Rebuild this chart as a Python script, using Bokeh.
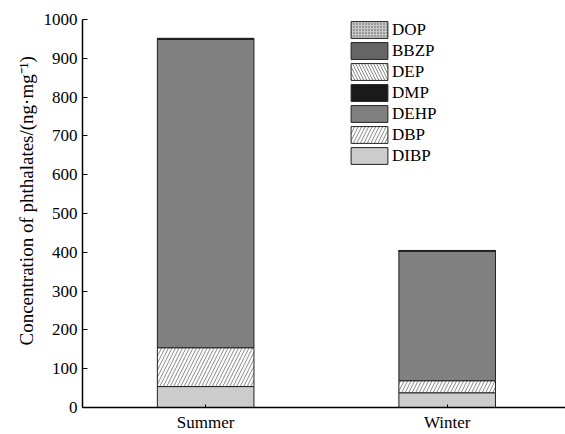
from bokeh.plotting import figure
from bokeh.models import Range1d, FixedTicker, Legend, LegendItem, Title
from bokeh.embed import file_html
from bokeh.resources import INLINE

categories = ["Summer", "Winter"]
DIBP = [54, 38]
DBP = [100, 31]
DEHP = [795, 334]
DMP = [0.8, 0.6]
DEP = [0.3, 0.2]
BBZP = [1.0, 0.8]
DOP = [0.3, 0.2]
y_ticks = [0, 100, 200, 300, 400, 500, 600, 700, 800, 900, 1000]
y_title = "Concentration of phthalates/(ng·mg⁻¹)"

series = [
    ("DIBP", DIBP, dict(fill_color="#cccccc")),
    ("DBP", DBP, dict(fill_color="white", hatch_pattern="/", hatch_color="#555555", hatch_scale=7, hatch_weight=0.7)),
    ("DEHP", DEHP, dict(fill_color="#808080")),
    ("DMP", DMP, dict(fill_color="#1a1a1a")),
    ("DEP", DEP, dict(fill_color="white", hatch_pattern="\\", hatch_color="#555555", hatch_scale=6, hatch_weight=0.7)),
    ("BBZP", BBZP, dict(fill_color="#666666")),
    ("DOP", DOP, dict(fill_color="#c8c8c8", hatch_pattern=".", hatch_color="#555555", hatch_scale=3, hatch_weight=0.6)),
]

FONT = "Liberation Serif"
xs = list(range(len(categories)))

p = figure(width=565, height=434, output_backend="svg", toolbar_location=None,
           x_range=Range1d(-0.51, 1.49), y_range=Range1d(0, 1000),
           min_border_left=82, min_border_right=0, min_border_top=19, min_border_bottom=25)
p.outline_line_color = None
p.xgrid.visible = False
p.ygrid.visible = False
p.background_fill_color = "white"

bottom = [0.0] * len(xs)
items = []
for name, vals, style in series:
    top = [b + v for b, v in zip(bottom, vals)]
    r = p.vbar(x=xs, bottom=bottom, top=top, width=0.4,
               line_color="#222222", line_width=1, **style)
    items.append(LegendItem(label=name, renderers=[r]))
    bottom = top

legend = Legend(items=list(reversed(items)), location=(264, 241),
                glyph_width=46, glyph_height=21, spacing=0, padding=0, margin=0,
                label_text_font=FONT, label_text_font_size="17px", label_text_color="black",
                label_standoff=0, label_height=21,
                border_line_color=None, background_fill_alpha=0)
p.add_layout(legend)

p.add_layout(Title(text=y_title, align="left", offset=62, standoff=8,
                   text_font=FONT, text_font_size="19px", text_font_style="normal",
                   text_color="black"), "left")

p.yaxis.ticker = FixedTicker(ticks=y_ticks)
p.yaxis.major_label_text_font = FONT
p.yaxis.major_label_text_font_size = "17px"
p.yaxis.major_label_text_color = "black"
p.yaxis.major_tick_in = 5
p.yaxis.major_tick_out = 0
p.yaxis.minor_tick_line_color = None
p.yaxis.major_label_standoff = 5
p.yaxis.axis_line_width = 1.5
p.yaxis.axis_line_color = "black"

p.xaxis.ticker = FixedTicker(ticks=xs)
p.xaxis.major_label_overrides = {x: c for x, c in zip(xs, categories)}
p.xaxis.major_label_text_font = FONT
p.xaxis.major_label_text_font_size = "17px"
p.xaxis.major_label_text_color = "black"
p.xaxis.major_tick_in = 3
p.xaxis.major_tick_out = 0
p.xaxis.minor_tick_line_color = None
p.xaxis.major_label_standoff = 5
p.xaxis.axis_line_width = 1.5
p.xaxis.axis_line_color = "black"

open("out.html", "w").write(file_html(p, INLINE))
